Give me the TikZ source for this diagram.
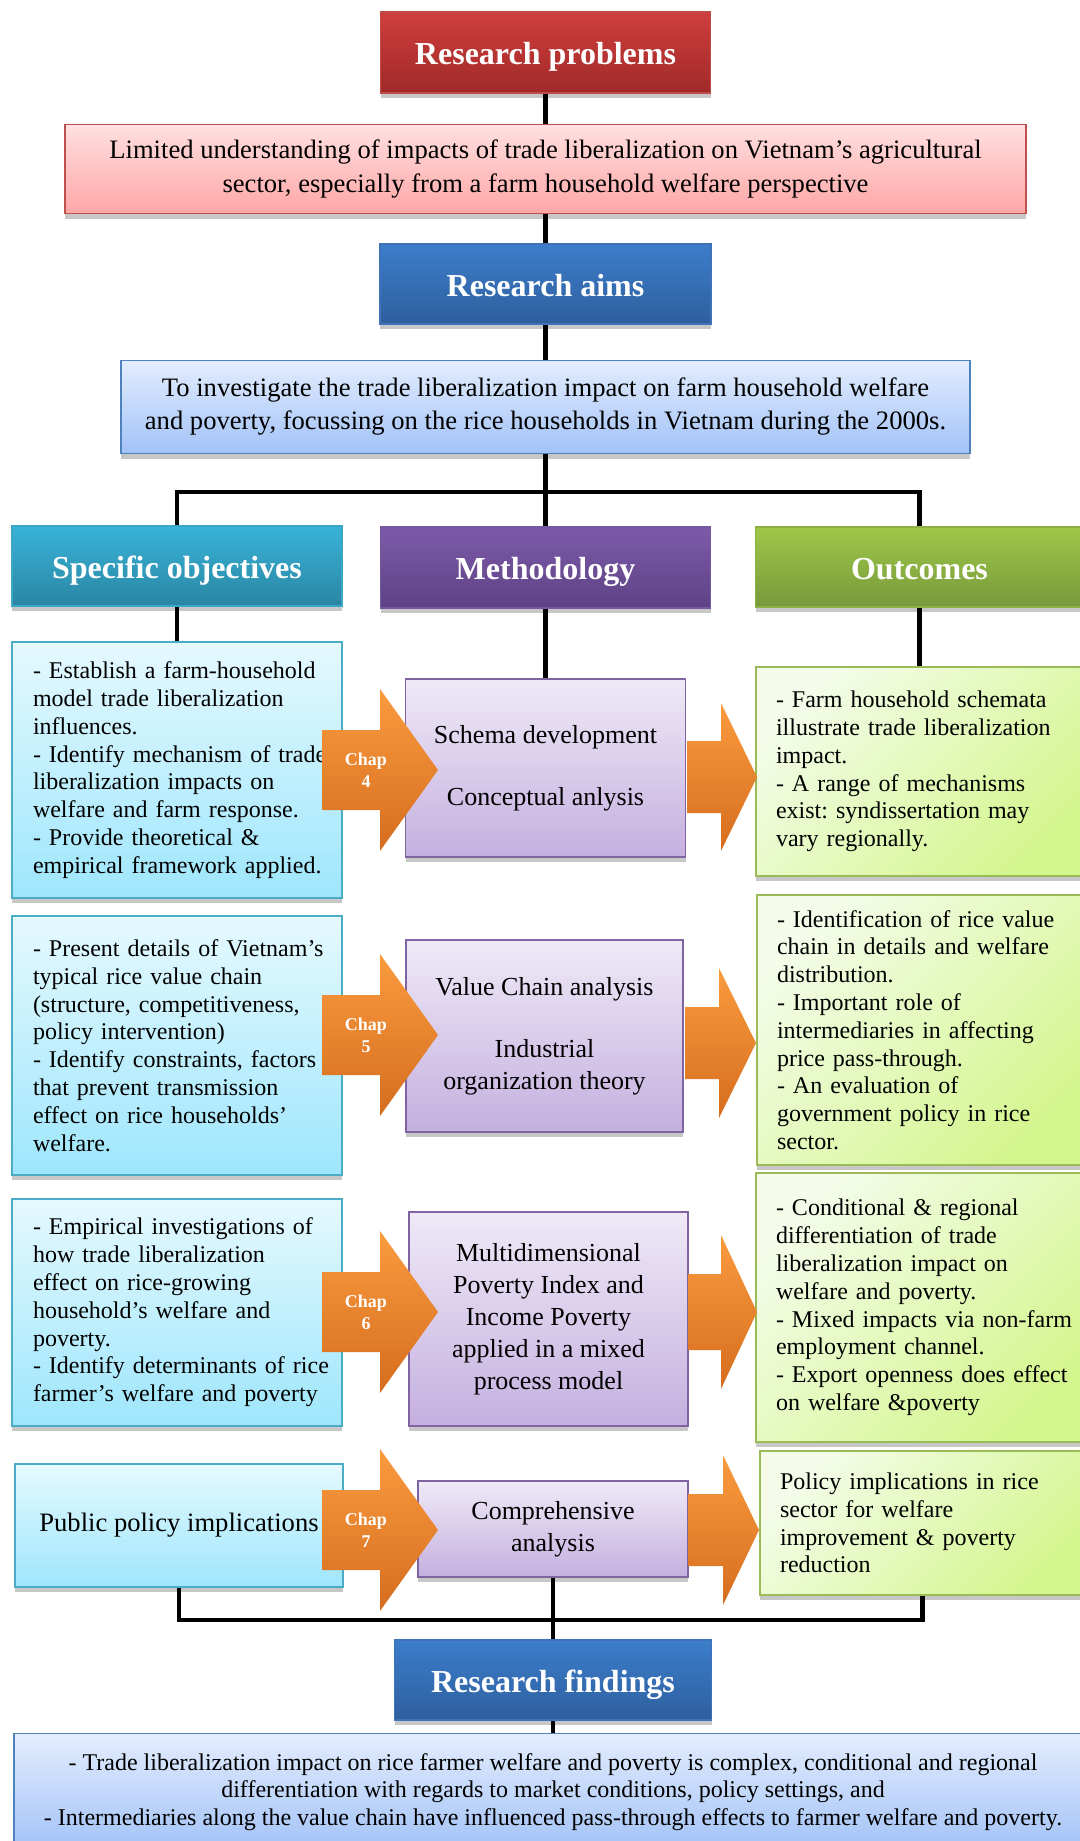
\documentclass[tikz,border=0pt]{standalone}
\usepackage{fontspec}
\setmainfont{Liberation Serif}
\usetikzlibrary{shadows,backgrounds}
\frenchspacing

% palette
\definecolor{rptop}{HTML}{CF3E3C}\definecolor{rpbot}{HTML}{A02A29}\definecolor{rpline}{HTML}{BE4B48}
\definecolor{pttop}{HTML}{FFE0E0}\definecolor{ptbot}{HTML}{FFA6A6}\definecolor{ptline}{HTML}{C0504D}
\definecolor{ratop}{HTML}{3C7DCB}\definecolor{rabot}{HTML}{2E5F9E}\definecolor{raline}{HTML}{4072B8}
\definecolor{attop}{HTML}{E3EDFD}\definecolor{atbot}{HTML}{A2C2F7}\definecolor{atline}{HTML}{4F81BD}
\definecolor{sotop}{HTML}{39B3D9}\definecolor{sobot}{HTML}{2A86A2}\definecolor{soline}{HTML}{3CA6C6}
\definecolor{mhtop}{HTML}{7D5AA9}\definecolor{mhbot}{HTML}{5E4285}\definecolor{mhline}{HTML}{7458A0}
\definecolor{ohtop}{HTML}{9FC84A}\definecolor{ohbot}{HTML}{77993A}\definecolor{ohline}{HTML}{8DB146}
\definecolor{objtop}{HTML}{E5F9FE}\definecolor{objbot}{HTML}{9EE6FC}\definecolor{objline}{HTML}{4BACC6}
\definecolor{mtop}{HTML}{EFE9F7}\definecolor{mbot}{HTML}{C4B0DF}\definecolor{mline}{HTML}{8064A2}
\definecolor{otop}{HTML}{F4FCE9}\definecolor{obot}{HTML}{D4F68F}\definecolor{oline}{HTML}{9BBB59}
\definecolor{artop}{HTML}{FA9B3F}\definecolor{arbot}{HTML}{D56D1E}

% left indent inside left-aligned boxes
\newcommand\indentby[1]{\leftskip=#1pt\relax}
% block arrow: start x, head base x, tip x, centre y, half shaft, half head
\newcommand\fatarrow[6]{%
  \path[arrowfill] (#1,#4-#5) -- (#2,#4-#5) -- (#2,#4-#6) -- (#3,#4)
    -- (#2,#4+#6) -- (#2,#4+#5) -- (#1,#4+#5) -- cycle;}

\tikzset{
  conn/.style={line width=4.5pt, draw=black, line join=miter},
  shadowed/.style={drop shadow={shadow xshift=0pt,shadow yshift=-5pt,opacity=0.22,fill=black}},
  box/.style={shadowed, line width=1.8pt, inner sep=0pt, align=center},
  hdr/.style={box, text=white, text height=24pt, text depth=0pt, font=\bfseries\fontsize{32}{38}\selectfont},
  redhdr/.style={hdr, draw=rpline, top color=rptop, bottom color=rpbot},
  bluehdr/.style={hdr, draw=raline, top color=ratop, bottom color=rabot},
  tealhdr/.style={hdr, draw=soline, top color=sotop, bottom color=sobot},
  purphdr/.style={hdr, draw=mhline, top color=mhtop, bottom color=mhbot},
  greenhdr/.style={hdr, draw=ohline, top color=ohtop, bottom color=ohbot},
  redtext/.style={box, draw=ptline, top color=pttop, bottom color=ptbot, font=\fontsize{26.6}{34}\selectfont},
  bluetext/.style={box, draw=atline, top color=attop, bottom color=atbot, font=\fontsize{26.6}{33}\selectfont},
  objbox/.style={box, draw=objline, top color=objtop, bottom color=objbot, font=\fontsize{24}{27.8}\selectfont},
  objtext/.style={objbox, align=left, text width=318pt},
  methbox/.style={box, draw=mline, top color=mtop, bottom color=mbot, font=\fontsize{26}{32}\selectfont},
  outbox/.style={box, draw=oline, top color=otop, bottom color=obot, shading angle=45,
    align=left, font=\fontsize{24}{27.8}\selectfont},
  findbox/.style={box, draw=atline, top color=attop, bottom color=atbot, font=\fontsize{24}{27.8}\selectfont},
  arrowfill/.style={top color=artop, bottom color=arbot, draw=none},
  chaplbl/.style={text=white, font=\bfseries\fontsize{18}{21.7}\selectfont, align=center, inner sep=0pt},
}

\begin{document}
\begin{tikzpicture}[x=1pt,y=-1pt]
\path[use as bounding box] (0,0) rectangle (1079,1841);

% top chain
\node[redhdr, minimum width=330pt, minimum height=81pt] (rp) at (545.5,52.5) {Research problems};
\node[redtext, minimum width=961pt, minimum height=89pt] (pt) at (545.5,169)
  {Limited understanding of impacts of trade liberalization on Vietnam's agricultural\\
   sector, especially from a farm household welfare perspective};
\node[bluehdr, minimum width=331pt, minimum height=80pt] (ra) at (545.5,284) {Research aims};
\node[bluetext, minimum width=849pt, minimum height=93pt] (at) at (545.5,407)
  {To investigate the trade liberalization impact on farm household welfare\\
   and poverty, focussing on the rice households in Vietnam during the 2000s.};

% column headers
\node[tealhdr, minimum width=330pt, minimum height=80pt] (so) at (177,566) {Specific objectives};
\node[purphdr, minimum width=330pt, minimum height=81pt] (meth) at (545.5,567.5) {Methodology};
\node[greenhdr, minimum width=328pt, minimum height=80pt] (out) at (919.5,567) {Outcomes};

% row 1
\node[objtext, minimum width=330pt, minimum height=256pt] (obj1) at (177,770)
  {\indentby{15}- Establish a farm-household\\model trade liberalization\\influences.\\
   - Identify mechanism of trade\\liberalization impacts on\\welfare and farm response.\\
   - Provide theoretical \&\\empirical framework applied.\par};
\node[methbox, minimum width=280pt, minimum height=178pt] (m1) at (545.5,768)
  {Schema development\\[30pt]Conceptual anlysis};
\node[outbox, text width=315pt, minimum width=327pt, minimum height=209pt] (o1) at (919.5,771.5)
  {\indentby{14}- Farm household schemata\\illustrate trade liberalization\\impact.\\
   - A range of mechanisms\\exist: syndissertation may\\vary regionally.\par};

% row 2
\node[objtext, minimum width=330pt, minimum height=259pt] (obj2) at (177,1045.5)
  {\indentby{15}- Present details of Vietnam's\\typical rice value chain\\(structure, competitiveness,\\
   policy intervention)\\- Identify constraints, factors\\that prevent transmission\\
   effect on rice households'\\welfare.\par};
\node[methbox, minimum width=277pt, minimum height=192pt] (m2) at (544.5,1036)
  {Value Chain analysis\\[30pt]Industrial\\organization theory};
\node[outbox, text width=314pt, minimum width=326pt, minimum height=270pt] (o2) at (920,1030)
  {\indentby{14}- Identification of rice value\\chain in details and welfare\\distribution.\\
   - Important role of\\intermediaries in affecting\\price pass-through.\\
   - An evaluation of\\government policy in rice\\sector.\par};

% row 3
\node[objtext, minimum width=330pt, minimum height=227pt] (obj3) at (177,1312.5)
  {\indentby{15}- Empirical investigations of\\how trade liberalization\\effect on rice-growing\\
   household's welfare and\\poverty.\\- Identify determinants of rice\\farmer's welfare and poverty\par};
\node[methbox, minimum width=279pt, minimum height=214pt] (m3) at (548.5,1319)
  {Multidimensional\\Poverty Index and\\Income Poverty\\applied in a mixed\\process model};
\node[outbox, text width=315pt, minimum width=327pt, minimum height=269pt] (o3) at (919.5,1307.5)
  {\indentby{14}- Conditional \& regional\\differentiation of trade\\liberalization impact on\\
   welfare and poverty.\\- Mixed impacts via non-farm\\employment channel.\\
   - Export openness does effect\\on welfare \&poverty\par};

% row 4
\node[objbox, minimum width=328pt, minimum height=123pt, font=\fontsize{26.6}{32}\selectfont] (obj4) at (179,1525.5)
  {Public policy implications};
\node[methbox, minimum width=270pt, minimum height=96pt] (m4) at (553,1529)
  {Comprehensive\\analysis};
\node[outbox, text width=313pt, minimum width=325pt, minimum height=144pt] (o4) at (922.5,1523)
  {\indentby{14}Policy implications in rice\\sector for welfare\\improvement \& poverty\\reduction\par};

% findings
\node[bluehdr, minimum width=317pt, minimum height=80pt] (rf) at (553,1680) {Research findings};
\node[findbox, minimum width=1078pt, minimum height=117pt] (fb) at (553,1792)
  {- Trade liberalization impact on rice farmer welfare and poverty is complex, conditional and regional\\
   differentiation with regards to market conditions, policy settings, and\\
   - Intermediaries along the value chain have influenced pass-through effects to farmer welfare and poverty.};

% junction points of the two brackets
\coordinate (jt) at (545.5,492);
\coordinate (jb) at (553,1620);

% connectors
\begin{scope}[on background layer]
  \draw[conn] (rp.south) -- (pt.north);
  \draw[conn] (pt.south) -- (ra.north);
  \draw[conn] (ra.south) -- (at.north);
  \draw[conn] (at.south) -- (meth.north);
  \draw[conn] (so.north) |- (jt) -| (out.north);
  \draw[conn] (so.south) -- (obj1.north);
  \draw[conn] (meth.south) -- (m1.north);
  \draw[conn] (out.south) -- (out.south |- o1.north);
  \draw[conn] (obj4.south) |- (jb) -| (o4.south);
  \draw[conn] (m4.south) -- (rf.north);
  \draw[conn] (rf.south) -- (fb.north);
\end{scope}

% chapter arrows
\fatarrow{322}{380}{438}{770}{40}{81}
\fatarrow{322}{380}{438}{1035}{40}{81}
\fatarrow{322}{380}{438}{1312}{40}{81}
\fatarrow{322}{380}{438}{1530}{40}{81}
\node[chaplbl] (c4) at (366,770) {Chap\\4};
\node[chaplbl] (c5) at (366,1035) {Chap\\5};
\node[chaplbl] (c6) at (366,1312) {Chap\\6};
\node[chaplbl] (c7) at (366,1530) {Chap\\7};

% method-to-outcome arrows
\fatarrow{687}{721}{757}{777}{36}{74}
\fatarrow{685}{719}{756}{1043}{36}{75}
\fatarrow{688}{721}{757}{1312}{38}{77}
\fatarrow{688}{723}{759}{1530}{36}{75}
\end{tikzpicture}
\end{document}
